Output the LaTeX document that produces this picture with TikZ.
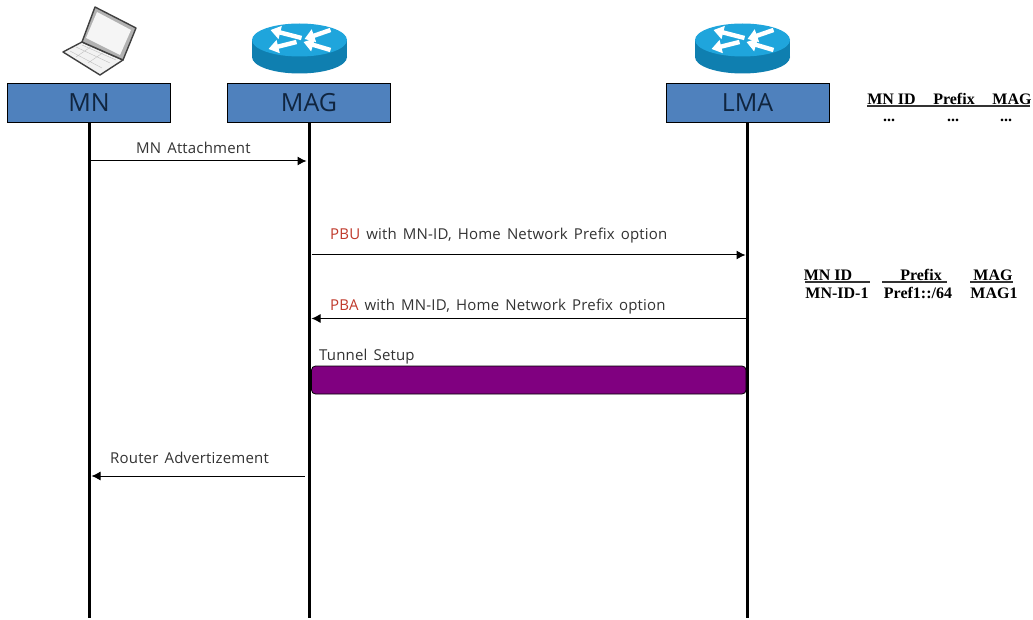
\documentclass[tikz,border=0pt]{standalone}
\usepackage{fontspec}
\setmainfont[LetterSpace=1.2,WordSpace=1.5]{Open Sans}
\newfontfamily\labelfont{Open Sans}
\newfontfamily\tablefont{Liberation Serif}
\usetikzlibrary{arrows.meta}
\definecolor{boxblue}{HTML}{4F81BD}
\definecolor{boxtext}{HTML}{10253F}
\definecolor{msgtext}{HTML}{333333}
\definecolor{pbred}{HTML}{C0392B}
\definecolor{tunnel}{HTML}{800080}
\definecolor{routertop}{HTML}{1FA5DC}
\definecolor{routerside}{HTML}{0F7FB0}
\tikzset{
  entity/.style={draw=black,line width=0.8pt,fill=boxblue,minimum width=163pt,minimum height=39pt,inner sep=0pt,text=boxtext,font=\labelfont\fontsize{25}{27}\selectfont},
  lifeline/.style={line width=3pt,black},
  msg/.style={line width=1pt,black,-{Latex[length=9pt,width=9pt]}},
  msgtxt/.style={inner sep=0pt,anchor=west,text=msgtext,font=\fontsize{15}{17}\selectfont},
  tabhead/.style={inner sep=0pt,text=black,font=\tablefont\bfseries\fontsize{16}{18}\selectfont},
  rule/.style={line width=1.2pt,black!80},
  routerarrow/.style={line width=4.4pt,white,-{Triangle[length=10pt,width=13pt]}}
}
\newcommand{\routericon}[2]{%
  \begin{scope}[shift={(#1,#2)}]
    \fill[routerside] (-47.5,0) rectangle (47.5,17);
    \fill[routerside] (0,17) ellipse[x radius=47.5,y radius=16.5];
    \fill[routertop] (0,0) ellipse[x radius=47.5,y radius=16.5];
    \draw[routerarrow] (2,-2) -- (-29,-10);
    \draw[routerarrow] (31,-10) -- (5,-1);
    \draw[routerarrow] (-3,2) -- (-31,9);
    \draw[routerarrow] (31,10) -- (4,2);
  \end{scope}}
\begin{document}
\begin{tikzpicture}[x=1pt,y=-1pt]
\useasboundingbox (0,0) rectangle (1033,620);
\fill[white] (0,0) rectangle (1033,620);

% laptop
\draw[line width=1.4pt,black!75,fill=black!5,line join=round] (63,52) -- (82,42) -- (123,60) -- (100,75) -- cycle;
\draw[line width=0.4pt,black!25] (70,51) -- (102,68) (76,47) -- (110,63) (82,45) -- (116,60) (76,57) -- (92,46) (88,63) -- (104,52);
\draw[line width=1.4pt,black!75,fill=black!30,line join=round] (95,7) -- (136,28) -- (123,60) -- (82,42) -- cycle;
\fill[black!4] (97,12) -- (131,30) -- (120,55) -- (86,38) -- cycle;

\routericon{299.5}{40}
\routericon{742.5}{40}

\node[entity] (mn) at (89,102.5) {MN};
\node[entity] (mag) at (309,102.5) {MAG};
\node[entity] (lma) at (747.5,102.5) {LMA};

\coordinate (mnend) at (89,618);
\coordinate (magend) at (309,618);
\coordinate (lmaend) at (747.5,618);
\draw[lifeline] (mn.south) -- (mnend);
\draw[lifeline] (mag.south) -- (magend);
\draw[lifeline] (lma.south) -- (lmaend);

\coordinate (a1s) at (91,161);
\coordinate (a1e) at (306.5,161);
\draw[msg] (a1s) -- (a1e);
\node[msgtxt] (t1) at (136,147.5) {MN Attachment};

\coordinate (a2s) at (311.5,255);
\coordinate (a2e) at (745.5,255);
\draw[msg] (a2s) -- (a2e);
\node[msgtxt] (t2) at (330,236) {\textcolor{pbred}{PBU} with MN-ID, Home Network Prefix option};

\coordinate (a3s) at (746,318.5);
\coordinate (a3e) at (311.5,318.5);
\draw[msg] (a3s) -- (a3e);
\node[msgtxt] (t3) at (330,306.5) {\textcolor{pbred}{PBA} with MN-ID, Home Network Prefix option};

\node[msgtxt] (t4) at (319,356.5) {Tunnel Setup};
\draw[line width=0.8pt,draw=black,fill=tunnel,rounded corners=4pt] (311.5,366) rectangle (746,394);

\coordinate (a4s) at (304.5,476);
\coordinate (a4e) at (91.5,476);
\draw[msg] (a4s) -- (a4e);
\node[msgtxt] (t5) at (110,457.5) {Router Advertizement};

% upper table
\node[tabhead] (h1) at (891.5,99) {MN ID};
\node[tabhead] (h2) at (954,99) {Prefix};
\node[tabhead] (h3) at (1012,99) {MAG};
\coordinate (r1s) at (867,106);
\coordinate (r1e) at (1030,106);
\draw[rule] (r1s) -- (r1e);
\node[tabhead] (d1) at (889,120) {...};
\node[tabhead] (d2) at (953,120) {...};
\node[tabhead] (d3) at (1006,120) {...};

% lower table
\node[tabhead] (k1) at (828,275) {MN ID};
\node[tabhead] (k2) at (921,275) {Prefix};
\node[tabhead] (k3) at (993,275) {MAG};
\coordinate (r2s) at (805,282);
\coordinate (r2e) at (870,282);
\coordinate (r3s) at (882,282);
\coordinate (r3e) at (947,282);
\coordinate (r4s) at (970,282);
\coordinate (r4e) at (1013,282);
\draw[rule] (r2s) -- (r2e);
\draw[rule] (r3s) -- (r3e);
\draw[rule] (r4s) -- (r4e);
\node[tabhead] (v1) at (837,293) {MN-ID-1};
\node[tabhead] (v2) at (918,293) {Pref1::/64};
\node[tabhead] (v3) at (994,293) {MAG1};
\end{tikzpicture}
\end{document}
